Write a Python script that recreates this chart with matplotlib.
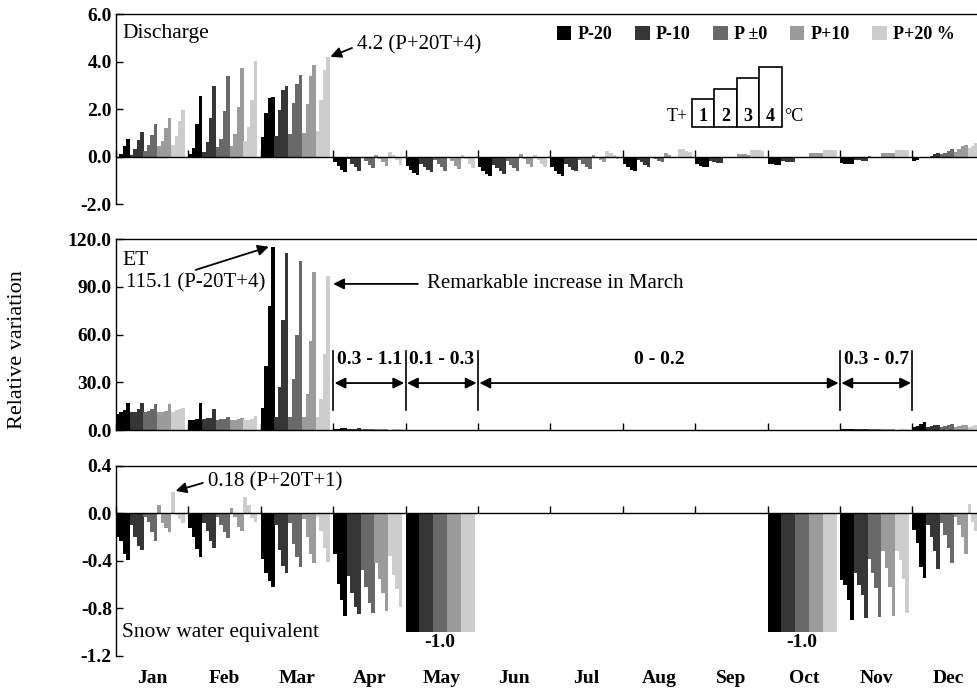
import numpy as np
import matplotlib
matplotlib.use("Agg")
from matplotlib import pyplot as plt
from matplotlib.patches import Patch, Rectangle
from matplotlib.transforms import blended_transform_factory

plt.rcParams["font.family"] = ["Liberation Serif", "DejaVu Serif"]

months = ["Jan", "Feb", "Mar", "Apr", "May", "Jun",
          "Jul", "Aug", "Sep", "Oct", "Nov", "Dec"]
p_labels = ["P-20", "P-10", "P \u00b10", "P+10", "P+20 %"]
p_colors = ["#000000", "#363636", "#696969", "#9b9b9b", "#cdcdcd"]

# relative change per month, each row holds T+1 .. T+4
q_m20 = [[-0.08, 0.1, 0.45, 0.75], [0.1, 0.35, 1.36, 2.55], [0.84, 1.82, 2.45, 2.5],
         [-0.25, -0.4, -0.55, -0.65], [-0.4, -0.55, -0.68, -0.77], [-0.45, -0.6, -0.75, -0.84],
         [-0.45, -0.6, -0.72, -0.8], [-0.3, -0.45, -0.55, -0.6], [-0.3, -0.38, -0.42, -0.42],
         [-0.3, -0.33, -0.36, -0.36], [-0.28, -0.3, -0.32, -0.32], [-0.2, -0.15, -0.08, 0.0]]
q_m10 = [[0.08, 0.3, 0.7, 1.02], [0.2, 0.6, 1.63, 2.98], [0.87, 1.96, 2.8, 2.98],
         [-0.1, -0.3, -0.45, -0.6], [-0.3, -0.45, -0.58, -0.66], [-0.35, -0.5, -0.62, -0.73],
         [-0.3, -0.45, -0.55, -0.62], [-0.15, -0.25, -0.35, -0.45], [-0.2, -0.25, -0.28, -0.28],
         [-0.18, -0.22, -0.24, -0.24], [-0.15, -0.16, -0.17, -0.17], [-0.05, 0.02, 0.1, 0.14]]
q_p0 = [[0.25, 0.5, 0.9, 1.36], [0.42, 0.74, 1.9, 3.4], [0.95, 2.25, 3.06, 3.44],
        [-0.05, -0.2, -0.35, -0.5], [-0.15, -0.3, -0.45, -0.59], [-0.2, -0.35, -0.5, -0.62],
        [-0.15, -0.3, -0.42, -0.52], [-0.05, -0.1, -0.2, -0.25], [-0.05, -0.07, -0.08, -0.08],
        [-0.02, -0.03, -0.03, -0.03], [0.01, 0.0, 0.0, 0.0], [0.1, 0.15, 0.25, 0.32]]
q_p10 = [[0.46, 0.65, 1.2, 1.63], [0.46, 0.95, 2.1, 3.72], [1.0, 2.2, 3.4, 3.86],
         [0.08, -0.1, -0.25, -0.4], [-0.05, -0.2, -0.38, -0.52], [0.1, -0.1, -0.3, -0.45],
         [0.05, -0.05, -0.15, -0.25], [0.14, 0.05, -0.05, -0.05], [0.12, 0.1, 0.1, 0.08],
         [0.14, 0.14, 0.13, 0.13], [0.14, 0.14, 0.14, 0.14], [0.2, 0.3, 0.45, 0.5]]
q_p20 = [[0.5, 0.85, 1.5, 1.96], [0.67, 1.26, 2.4, 4.04], [1.08, 2.4, 3.65, 4.2],
         [0.17, 0.05, -0.15, -0.35], [0.05, -0.1, -0.3, -0.5], [0.05, -0.15, -0.3, -0.45],
         [0.25, 0.15, 0.05, -0.1], [0.32, 0.3, 0.25, 0.2], [0.28, 0.28, 0.27, 0.25],
         [0.28, 0.28, 0.27, 0.27], [0.28, 0.28, 0.28, 0.28], [0.35, 0.45, 0.55, 0.63]]

et_m20 = [[10, 11, 12.6, 16.8], [6, 6.5, 7, 16.8], [14, 40, 78, 115.1],
          [0.8, 0.9, 1.0, 1.1], [0.22, 0.25, 0.28, 0.3], [0.1, 0.12, 0.15, 0.2],
          [0.1, 0.12, 0.15, 0.2], [0.08, 0.1, 0.12, 0.15], [0.05, 0.08, 0.1, 0.12],
          [0.05, 0.08, 0.1, 0.12], [0.5, 0.55, 0.6, 0.7], [2.0, 2.8, 3.8, 5.0]]
et_m10 = [[11, 11, 13, 17], [7, 7.4, 7.5, 13], [8, 27, 69, 111],
          [0.7, 0.8, 0.9, 1.0], [0.18, 0.22, 0.25, 0.28], [0.08, 0.1, 0.12, 0.18],
          [0.08, 0.1, 0.12, 0.18], [0.06, 0.08, 0.1, 0.12], [0.04, 0.06, 0.08, 0.1],
          [0.04, 0.06, 0.08, 0.1], [0.45, 0.5, 0.55, 0.65], [2.0, 2.5, 2.9, 3.4]]
et_p0 = [[11, 12, 13, 16.4], [6.5, 7, 7, 8], [8, 32, 60, 106],
         [0.6, 0.7, 0.8, 0.9], [0.15, 0.18, 0.22, 0.25], [0.06, 0.08, 0.1, 0.15],
         [0.06, 0.08, 0.1, 0.15], [0.05, 0.06, 0.08, 0.1], [0.03, 0.05, 0.06, 0.08],
         [0.03, 0.05, 0.06, 0.08], [0.4, 0.45, 0.5, 0.6], [2.1, 2.5, 3.0, 3.6]]
et_p10 = [[11.5, 11.5, 12, 16.4], [6.5, 6.5, 6.8, 7.4], [8, 22.7, 56, 99],
          [0.5, 0.6, 0.7, 0.8], [0.12, 0.15, 0.18, 0.22], [0.04, 0.06, 0.08, 0.12],
          [0.04, 0.06, 0.08, 0.12], [0.03, 0.05, 0.06, 0.08], [0.02, 0.03, 0.05, 0.06],
          [0.02, 0.03, 0.05, 0.06], [0.35, 0.4, 0.45, 0.55], [2.0, 2.4, 3.0, 3.4]]
et_p20 = [[11.5, 12.5, 13, 14], [6, 6.5, 7, 9], [8, 19.5, 48, 97],
          [0.3, 0.4, 0.5, 0.6], [0.1, 0.12, 0.15, 0.18], [0.02, 0.04, 0.06, 0.1],
          [0.02, 0.04, 0.06, 0.1], [0.0, 0.02, 0.04, 0.06], [0.0, 0.01, 0.03, 0.05],
          [0.0, 0.01, 0.03, 0.05], [0.3, 0.35, 0.4, 0.5], [2.0, 2.5, 3.0, 3.4]]

swe_m20 = [[-0.2, -0.23, -0.34, -0.39], [-0.12, -0.2, -0.3, -0.37], [-0.38, -0.5, -0.57, -0.62],
           [-0.34, -0.59, -0.73, -0.86], [-1.0, -1.0, -1.0, -1.0], [0, 0, 0, 0],
           [0, 0, 0, 0], [0, 0, 0, 0], [0, 0, 0, 0],
           [-1.0, -1.0, -1.0, -1.0], [-0.56, -0.6, -0.73, -0.9], [-0.14, -0.25, -0.45, -0.54]]
swe_m10 = [[-0.1, -0.2, -0.27, -0.31], [-0.08, -0.15, -0.23, -0.29], [-0.1, -0.31, -0.44, -0.5],
           [-0.53, -0.67, -0.79, -0.85], [-1.0, -1.0, -1.0, -1.0], [0, 0, 0, 0],
           [0, 0, 0, 0], [0, 0, 0, 0], [0, 0, 0, 0],
           [-1.0, -1.0, -1.0, -1.0], [-0.5, -0.6, -0.69, -0.88], [-0.1, -0.2, -0.32, -0.47]]
swe_p0 = [[-0.03, -0.07, -0.16, -0.23], [-0.03, -0.1, -0.16, -0.21], [-0.08, -0.26, -0.37, -0.45],
          [-0.48, -0.62, -0.75, -0.84], [-1.0, -1.0, -1.0, -1.0], [0, 0, 0, 0],
          [0, 0, 0, 0], [0, 0, 0, 0], [0, 0, 0, 0],
          [-1.0, -1.0, -1.0, -1.0], [-0.38, -0.5, -0.63, -0.87], [-0.08, -0.18, -0.29, -0.42]]
swe_p10 = [[0.07, -0.08, -0.12, -0.16], [0.05, -0.03, -0.11, -0.15], [-0.05, -0.2, -0.34, -0.42],
           [-0.42, -0.55, -0.67, -0.82], [-1.0, -1.0, -1.0, -1.0], [0, 0, 0, 0],
           [0, 0, 0, 0], [0, 0, 0, 0], [0, 0, 0, 0],
           [-1.0, -1.0, -1.0, -1.0], [-0.32, -0.46, -0.62, -0.86], [-0.03, -0.1, -0.2, -0.34]]
swe_p20 = [[0.18, -0.01, -0.05, -0.08], [0.14, 0.07, -0.04, -0.07], [-0.03, -0.15, -0.29, -0.41],
           [-0.36, -0.52, -0.64, -0.79], [-1.0, -1.0, -1.0, -1.0], [0, 0, 0, 0],
           [0, 0, 0, 0], [0, 0, 0, 0], [0, 0, 0, 0],
           [-1.0, -1.0, -1.0, -1.0], [-0.32, -0.39, -0.55, -0.84], [0.08, -0.07, -0.15, -0.28]]

discharge = [q_m20, q_m10, q_p0, q_p10, q_p20]
et = [et_m20, et_m10, et_p0, et_p10, et_p20]
swe = [swe_m20, swe_m10, swe_p0, swe_p10, swe_p20]

NSLOT = 21  # 20 bars + one empty slot per month
BW = 1.0 / NSLOT


def bar_x(month, p, t):
    return month + (p * 4 + t + 0.5) * BW


def draw_bars(ax, series):
    m = np.arange(12)
    for p, vals in enumerate(series):
        vals = np.array(vals, dtype=float)
        for t in range(4):
            ax.bar(bar_x(m, p, t), vals[:, t], width=BW * 1.04,
                   color=p_colors[p], linewidth=0)


def style_axis(ax, ylim, yticks):
    ax.set_xlim(0, 12)
    ax.set_ylim(*ylim)
    ax.set_yticks(yticks)
    ax.set_yticklabels(["%.1f" % v for v in yticks], fontweight="bold", fontsize=14)
    ax.set_xticks(np.arange(0, 13))
    ax.set_xticklabels([])
    ax.spines["bottom"].set_position(("data", 0))
    for s in ax.spines.values():
        s.set_linewidth(1.0)
    ax.tick_params(axis="both", direction="in", length=5, width=1.0)
    ax.tick_params(axis="y", pad=3)


fig = plt.figure(figsize=(9.77, 6.94), dpi=100)
L, W = 0.1187, 0.8893
ax1 = fig.add_axes([L, 0.706, W, 0.2738])
ax2 = fig.add_axes([L, 0.3804, W, 0.2752])
ax3 = fig.add_axes([L, 0.0548, W, 0.2738])

draw_bars(ax1, discharge)
draw_bars(ax2, et)
draw_bars(ax3, swe)

style_axis(ax1, (-2, 6), [-2, 0, 2, 4, 6])
style_axis(ax2, (0, 120), [0, 30, 60, 90, 120])
style_axis(ax3, (-1.2, 0.4), [-1.2, -0.8, -0.4, 0.0, 0.4])

ttl = dict(fontsize=15.5, va="center", ha="left")
ax1.text(0.007, 0.90, "Discharge", transform=ax1.transAxes, **ttl)
ax2.text(0.007, 0.89, "ET", transform=ax2.transAxes, **ttl)
ax3.text(0.007, 0.121, "Snow water equivalent", transform=ax3.transAxes, **ttl)

fig.text(0.018, 0.496, "Relative variation", rotation=90, fontsize=16,
         ha="center", va="center")

# month names under the lowest panel
tr = blended_transform_factory(ax3.transData, ax3.transAxes)
for i, name in enumerate(months):
    ax3.text(i + 0.5, -0.12, name, transform=tr, ha="center", va="center",
             fontsize=14, fontweight="bold")

# legend
handles = [Patch(facecolor=c, edgecolor="none") for c in p_colors]
ax1.legend(handles, p_labels, ncol=5, loc="upper right", frameon=False,
           bbox_to_anchor=(0.974, 0.975), borderaxespad=0, handlelength=0.8,
           handleheight=0.8, handletextpad=0.35, columnspacing=1.25,
           prop=dict(weight="bold", size=13))

# warming steps key
box_x0, box_w, box_y0 = 0.6626, 0.0259, 0.4037
box_h = [0.149, 0.2016, 0.258, 0.316]
for k, h in enumerate(box_h):
    ax1.add_patch(Rectangle((box_x0 + k * box_w, box_y0), box_w, h,
                            transform=ax1.transAxes, facecolor="white",
                            edgecolor="black", linewidth=1.2, zorder=5))
    ax1.text(box_x0 + (k + 0.5) * box_w, 0.463, str(k + 1), transform=ax1.transAxes,
             ha="center", va="center", fontsize=13, fontweight="bold", zorder=6)
ax1.text(box_x0 - 0.004, 0.463, "T+", transform=ax1.transAxes, ha="right",
         va="center", fontsize=13)
ax1.text(box_x0 + 4 * box_w + 0.003, 0.463, "\u00b0C", transform=ax1.transAxes,
         ha="left", va="center", fontsize=13)

arrow = dict(arrowstyle="-|>", color="black", lw=1.3, mutation_scale=16,
             shrinkA=0, shrinkB=0)
ann = dict(fontsize=15, va="center", ha="left")

# discharge peak
xq = bar_x(2, 4, 3)
ax1.annotate("", xy=(xq + BW * 0.7, 4.2), xytext=(3.26, 4.57), arrowprops=arrow)
ax1.text(3.33, 4.69, "4.2 (P+20T+4)", **ann)

# ET peak and March note
xe = bar_x(2, 0, 3)
ax2.annotate("", xy=(xe - BW * 1.2, 115.1), xytext=(1.10, 100.6), arrowprops=arrow)
ax2.text(1.105, 92.5, "115.1 (P-20T+4)", fontsize=15, va="center", ha="center")
xe20 = bar_x(2, 4, 3)
ax2.annotate("", xy=(xe20 + BW * 1.5, 91.8), xytext=(4.17, 91.8), arrowprops=arrow)
ax2.text(4.296, 91.8, "Remarkable increase in March", **ann)

# ET ranges for the low months
ranges = [(3, 4, "0.3 - 1.1"), (4, 5, "0.1 - 0.3"), (5, 10, "0 - 0.2"), (10, 11, "0.3 - 0.7")]
for a, b, lab in ranges:
    ax2.annotate("", xy=(a + 0.02, 29.5), xytext=(b - 0.02, 29.5),
                 arrowprops=dict(arrowstyle="<|-|>", color="black", lw=1.3,
                                 mutation_scale=16, shrinkA=0, shrinkB=0))
    ax2.text((a + b) / 2, 44, lab, ha="center", va="center", fontsize=14,
             fontweight="bold")
for xb in [3, 4, 5, 10, 11]:
    ax2.plot([xb, xb], [12.6, 49.7], color="black", lw=1.2)

# snow water equivalent notes
xs = bar_x(0, 4, 0)
ax3.annotate("", xy=(xs + BW * 0.8, 0.19), xytext=(1.2, 0.257), arrowprops=arrow)
ax3.text(1.27, 0.265, "0.18 (P+20T+1)", **ann)
for m in [4, 9]:
    ax3.text(m + 10 * BW, -1.09, "%.1f" % swe_m20[m][0], ha="center", va="center",
             fontsize=14, fontweight="bold")

fig.savefig("out.png", dpi=100)
